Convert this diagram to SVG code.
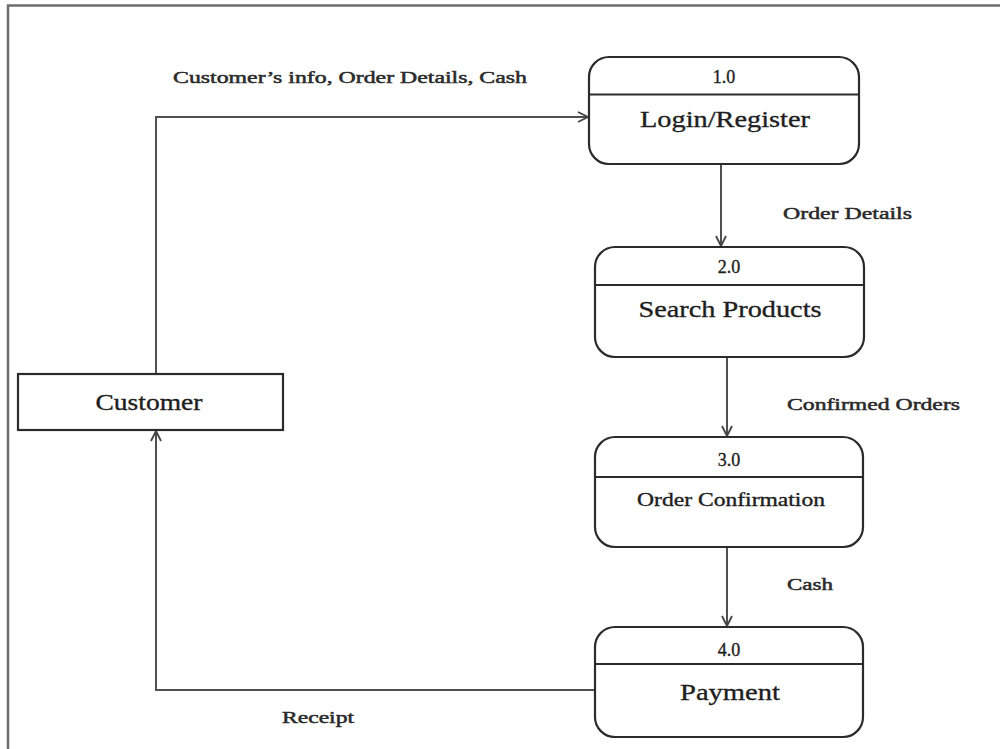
<svg xmlns="http://www.w3.org/2000/svg" width="1000" height="749" viewBox="0 0 1000 749">
  <defs>
    <marker id="arrow" viewBox="0 0 12 12" refX="11" refY="6" markerWidth="12" markerHeight="12" markerUnits="userSpaceOnUse" orient="auto">
      <path d="M1,1 L11,6 L1,11" fill="none" stroke="#444" stroke-width="1.8"/>
    </marker>
    <style>
      .frame { fill: none; stroke: #6e6e6e; stroke-width: 2.5; }
      .proc { fill: #fff; stroke: #2b2b2b; stroke-width: 2.2; }
      .div { stroke: #2b2b2b; stroke-width: 2; }
      .ent { fill: #fff; stroke: #2b2b2b; stroke-width: 2.2; }
      .flow { fill: none; stroke: #505050; stroke-width: 2; }
      text { font-family: "Liberation Serif", "DejaVu Serif", serif; fill: #1e1e1e; stroke: #1e1e1e; stroke-width: 0.35; }
      .num { font-size: 18px; text-anchor: middle; }
      .title { font-size: 24px; text-anchor: middle; }
      .small { font-size: 18px; text-anchor: middle; }
      .lbl { font-size: 17px; fill: #2a2a2a; stroke: #2a2a2a; stroke-width: 0.5; }
    </style>
  </defs>

  <rect width="1000" height="749" fill="#fff"/>
  <!-- outer frame: top and left edges -->
  <path class="frame" d="M8,749 L8,5.5 L1000,5.5"/>

  <!-- connectors -->
  <g id="connectors">
    <path class="flow" d="M156,374 L156,117 L588,117" marker-end="url(#arrow)"/>
    <path class="flow" d="M721,165 L721,246" marker-end="url(#arrow)"/>
    <path class="flow" d="M727,357 L727,436" marker-end="url(#arrow)"/>
    <path class="flow" d="M727,547 L727,626" marker-end="url(#arrow)"/>
    <path class="flow" d="M595,690 L156,690 L156,431" marker-end="url(#arrow)"/>
    <text class="lbl" x="173" y="83" textLength="354" lengthAdjust="spacingAndGlyphs">Customer’s info, Order Details, Cash</text>
    <text class="lbl" x="783" y="219" textLength="129" lengthAdjust="spacingAndGlyphs">Order Details</text>
    <text class="lbl" x="787" y="410" textLength="173" lengthAdjust="spacingAndGlyphs">Confirmed Orders</text>
    <text class="lbl" x="787" y="590" textLength="46" lengthAdjust="spacingAndGlyphs">Cash</text>
    <text class="lbl" x="282" y="723" textLength="72" lengthAdjust="spacingAndGlyphs">Receipt</text>
  </g>

  <!-- external entity -->
  <g id="customer">
    <rect class="ent" x="18" y="374" width="265" height="56"/>
    <text class="title" x="149" y="410" textLength="107" lengthAdjust="spacingAndGlyphs">Customer</text>
  </g>

  <!-- processes -->
  <g id="p1">
    <rect class="proc" x="589" y="57" width="270" height="107" rx="20"/>
    <line class="div" x1="589" y1="94.5" x2="859" y2="94.5"/>
    <text class="num" x="724" y="83">1.0</text>
    <text class="title" x="725" y="127" textLength="170" lengthAdjust="spacingAndGlyphs">Login/Register</text>
  </g>

  <g id="p2">
    <rect class="proc" x="595" y="247" width="269" height="110" rx="20"/>
    <line class="div" x1="595" y1="285" x2="864" y2="285"/>
    <text class="num" x="729" y="273">2.0</text>
    <text class="title" x="730" y="317" textLength="183" lengthAdjust="spacingAndGlyphs">Search Products</text>
  </g>

  <g id="p3">
    <rect class="proc" x="595" y="437" width="268" height="110" rx="20"/>
    <line class="div" x1="595" y1="477" x2="863" y2="477"/>
    <text class="num" x="729" y="466">3.0</text>
    <text class="small" x="731" y="506" textLength="188" lengthAdjust="spacingAndGlyphs">Order Confirmation</text>
  </g>

  <g id="p4">
    <rect class="proc" x="595" y="627" width="268" height="110" rx="20"/>
    <line class="div" x1="595" y1="664" x2="863" y2="664"/>
    <text class="num" x="729" y="656">4.0</text>
    <text class="title" x="730" y="700" textLength="100" lengthAdjust="spacingAndGlyphs">Payment</text>
  </g>
</svg>
